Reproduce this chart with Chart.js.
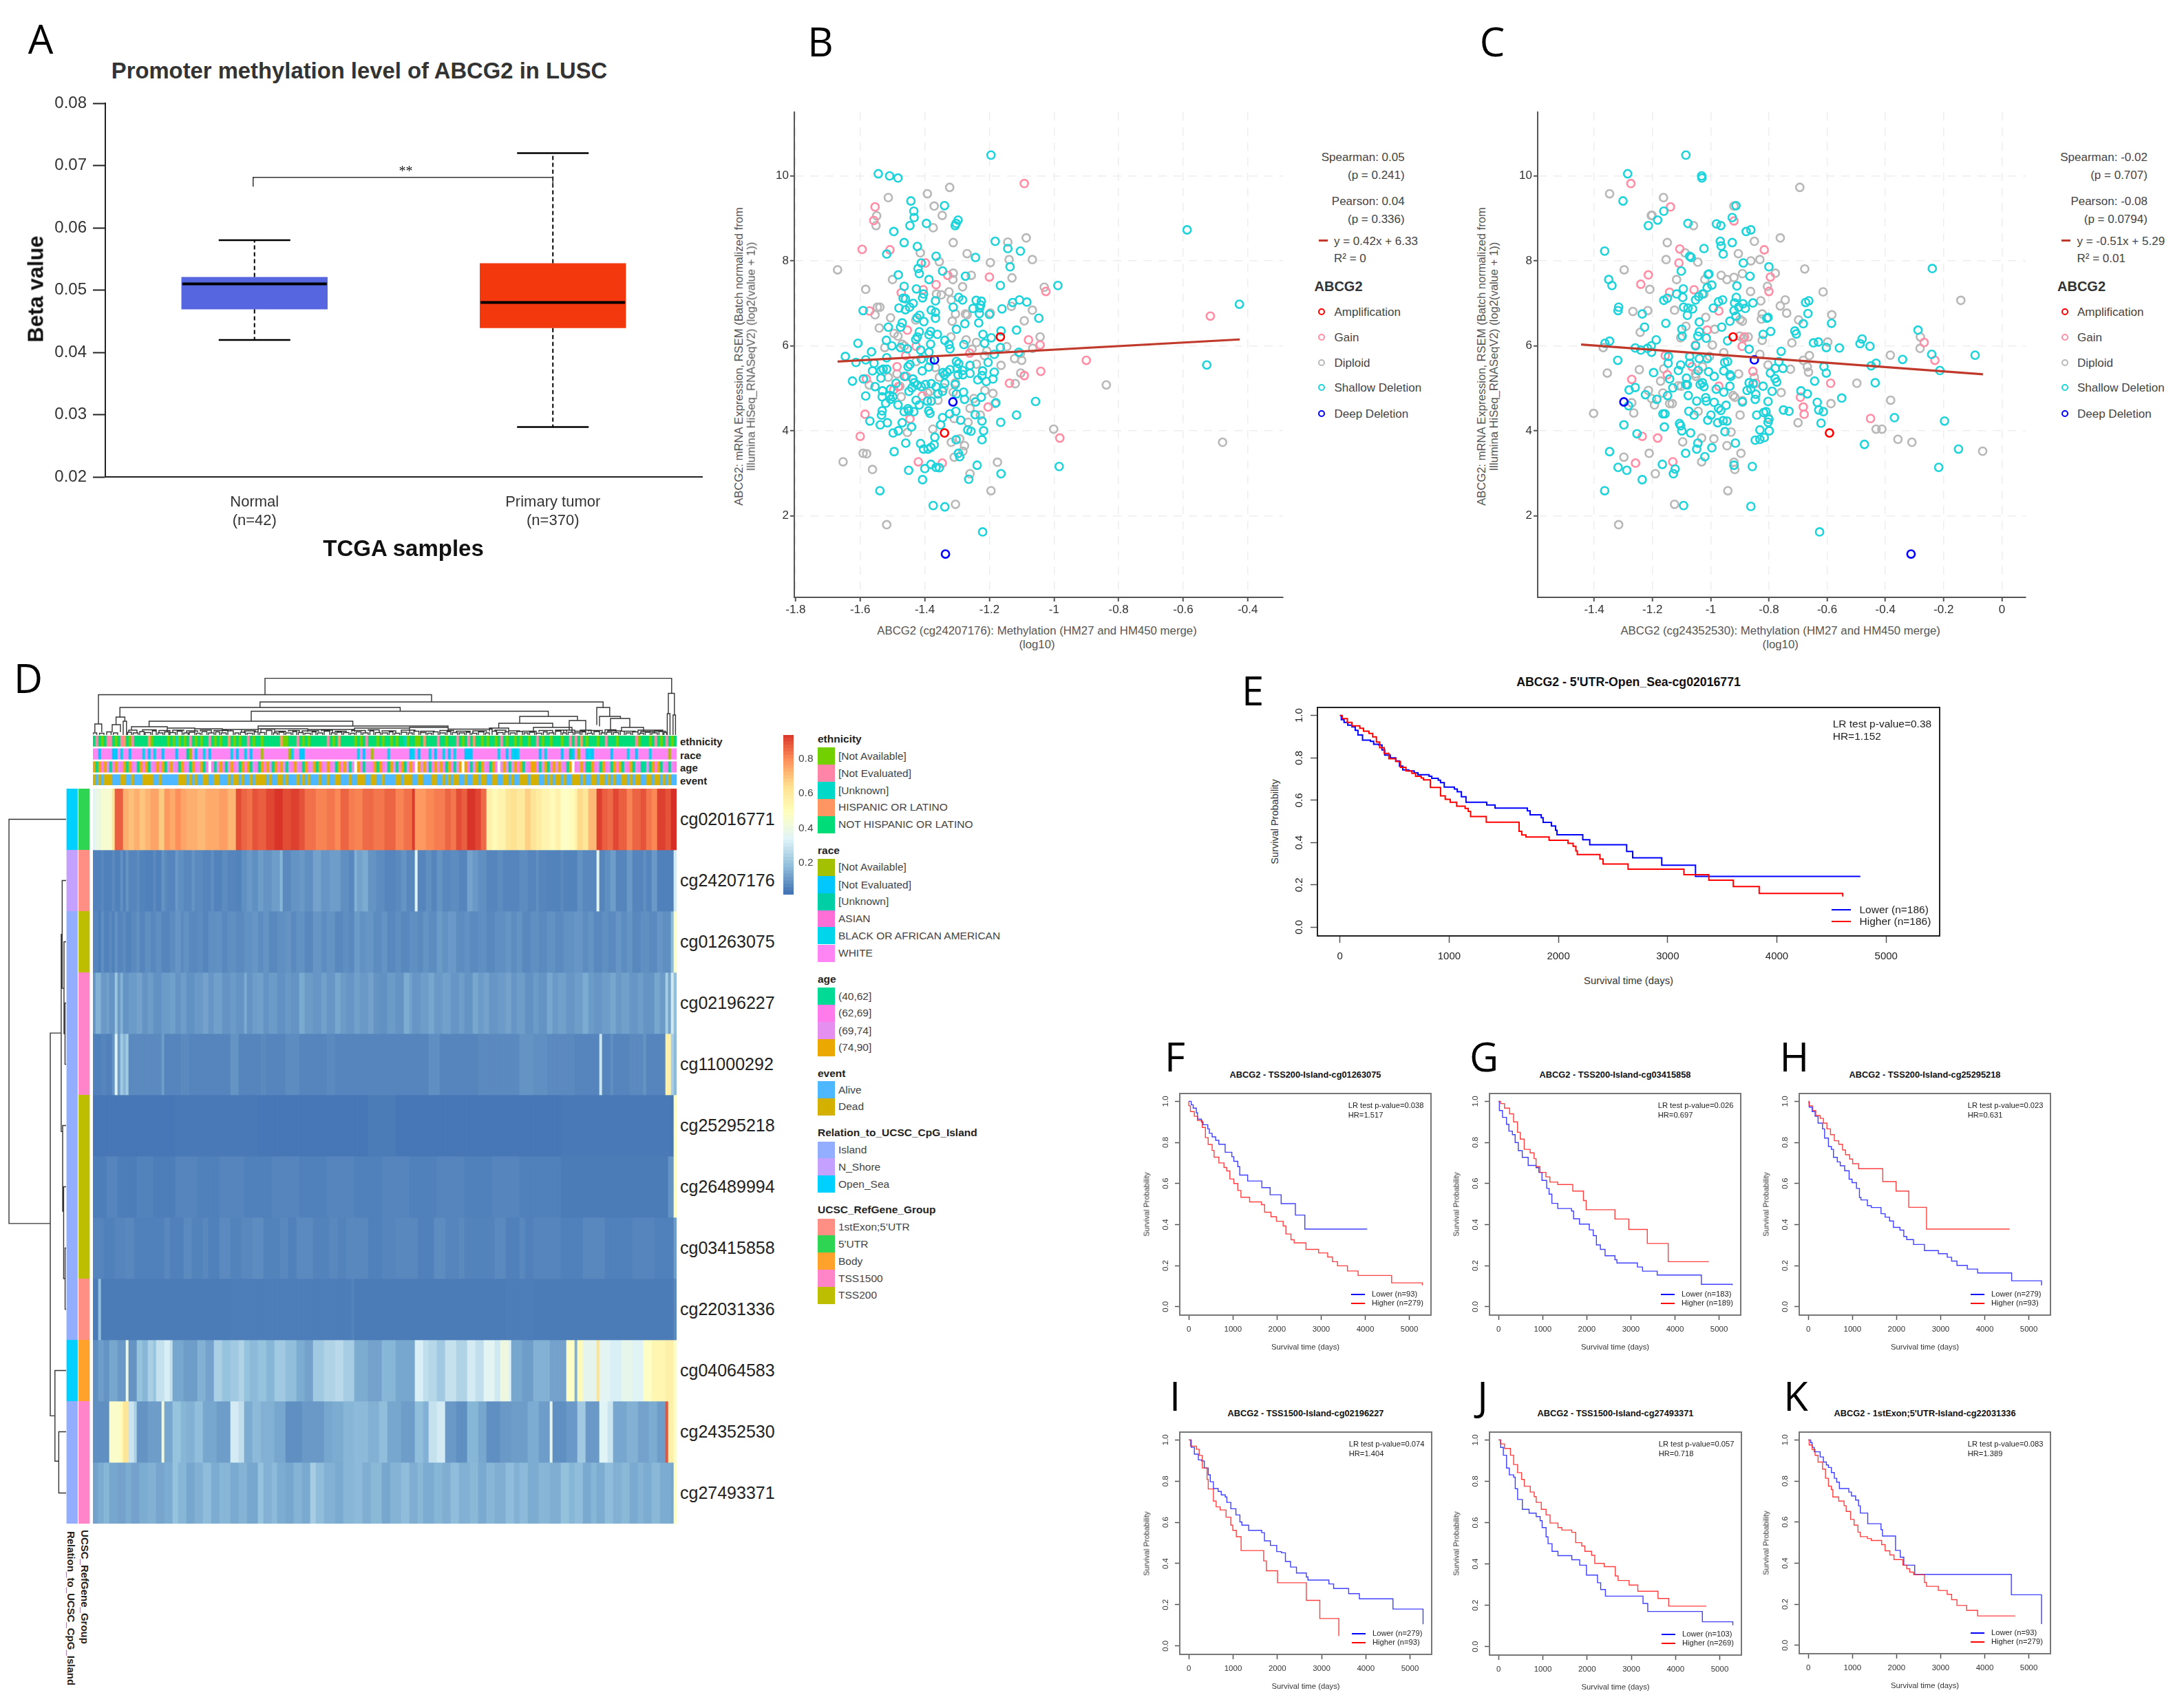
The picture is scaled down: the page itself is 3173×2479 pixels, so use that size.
<!DOCTYPE html>
<html><head><meta charset="utf-8">
<script src="https://cdn.jsdelivr.net/npm/chart.js@4/dist/chart.umd.min.js"></script>
<style>html,body{margin:0;padding:0;background:#fff}#root{position:relative;width:3173px;height:2479px;overflow:hidden;background:#fff;font-family:"Liberation Sans",Arial,sans-serif}
canvas{position:absolute;display:block}.t{position:absolute;white-space:pre;line-height:1}</style>
</head><body><div id="root"></div>
<script>
/* ---------- Panel A ---------- */
const boxLabels=[['Normal','(n=42)'],['Primary tumor','(n=370)']];
const boxQ1=[0.0469,0.0439],boxMedian=[0.051,0.048],boxQ3=[0.0521,0.0543],boxLow=[0.042,0.028],boxHigh=[0.058,0.072];
const boxColors=['#5566E0','#F4380E'];
const bracketTop=0.0681,bracketLeg=0.0666;
const betaTicks=[0.02,0.03,0.04,0.05,0.06,0.07,0.08];

/* ---------- Panel B ---------- */
const bShallow=[[-1.195,10.49],[-1.544,10.05],[-1.509,10],[-1.483,9.95],[-1.443,9.41],[-1.434,9.17],[-1.339,9.3],[-1.433,9.02],[-1.297,8.96],[-1.303,8.88],[-1.306,8.83],[-1.395,8.88],[-1.446,8.83],[-1.496,8.69],[-1.464,8.43],[-1.182,8.46],[-1.423,8.34],[-1.143,8.29],[-1.104,8.23],[-1.518,8.16],[-1.365,8.11],[-1.243,8.08],[-1.136,7.86],[-1.411,7.95],[-1.421,7.82],[-1.417,7.7],[-1.482,7.67],[-1.345,7.76],[-1.274,7.64],[-1.387,7.56],[-1.464,7.4],[-1.426,7.34],[-1.166,7.42],[-0.988,7.42],[-1.404,7.22],[-1.407,7.13],[-1.295,7.14],[-1.467,7.12],[-1.46,7.11],[-1.367,7.06],[-1.283,7.08],[-1.241,7.07],[-1.225,7.05],[-1.107,7.08],[-1.084,7.03],[-1.128,7.02],[-1.436,7],[-1.312,6.91],[-1.227,6.96],[-1.23,6.89],[-1.48,6.89],[-1.251,6.88],[-1.161,6.87],[-1.447,6.91],[-1.591,6.83],[-1.46,6.85],[-1.38,6.84],[-1.367,6.79],[-1.231,6.76],[-1.2,6.74],[-1.416,6.72],[-1.424,6.66],[-1.047,6.65],[-1.367,6.65],[-1.403,6.57],[-1.47,6.54],[-1.276,6.52],[-1.233,6.54],[-1.475,6.44],[-1.513,6.44],[-1.164,6.35],[-1.116,6.37],[-1.417,6.33],[-1.382,6.34],[-1.361,6.27],[-1.387,6.26],[-1.22,6.27],[-1.423,6.21],[-1.194,6.19],[-1.302,6.39],[-1.428,6.15],[-1.338,6.13],[-1.519,6.13],[-1.607,6.06],[-1.502,6],[-1.475,5.96],[-1.325,6.03],[-1.279,6.03],[-1.382,6.04],[-1.215,6.06],[-1.454,5.93],[-1.166,5.96],[-1.413,5.9],[-1.387,5.85],[-1.322,5.93],[-1.646,5.75],[-1.565,5.86],[-1.185,5.8],[-1.109,5.85],[-1.518,5.72],[-1.613,5.61],[-1.583,5.67],[-1.411,5.69],[-1.557,5.59],[-1.382,5.65],[-1.446,5.56],[-1.452,5.51],[-1.302,5.63],[-1.204,5.61],[-1.295,5.58],[-1.26,5.54],[-1.529,5.45],[-1.536,5.42],[-1.562,5.41],[-1.518,5.45],[-1.408,5.41],[-1.388,5.5],[-1.322,5.44],[-1.3,5.47],[-1.283,5.42],[-1.221,5.41],[-1.185,5.38],[-1.344,5.37],[-1.331,5.38],[-1.339,5.32],[-1.59,5.22],[-1.536,5.24],[-1.463,5.28],[-1.437,5.22],[-1.433,5.13],[-1.297,5.32],[-1.282,5.32],[-1.26,5.35],[-1.223,5.3],[-1.189,5.22],[-1.236,5.2],[-1.21,5.16],[-1.624,5.17],[-1.554,5.04],[-1.338,5.12],[-1.306,5.09],[-1.489,5.12],[-1.506,4.98],[-1.531,4.94],[-1.398,5.09],[-1.38,5.11],[-1.365,5.04],[-1.423,5.08],[-1.411,5.04],[-1.44,5.01],[-1.449,4.93],[-1.345,4.93],[-1.359,4.87],[-1.302,4.87],[-1.28,4.91],[-1.583,4.82],[-1.532,4.8],[-1.509,4.83],[-1.499,4.8],[-1.506,4.74],[-1.427,4.72],[-1.38,4.7],[-1.392,4.7],[-1.277,4.74],[-1.225,4.79],[-1.18,4.66],[-1.057,4.69],[-1.521,4.65],[-1.483,4.61],[-1.243,4.68],[-1.417,4.61],[-1.452,4.52],[-1.532,4.47],[-1.464,4.45],[-1.45,4.47],[-1.388,4.47],[-1.384,4.41],[-1.434,4.45],[-1.304,4.46],[-1.323,4.4],[-1.534,4.37],[-1.244,4.38],[-1.116,4.37],[-1.345,4.31],[-1.57,4.23],[-1.289,4.25],[-1.223,4.23],[-1.165,4.2],[-1.538,4.14],[-1.516,4.19],[-1.47,4.19],[-1.441,4.09],[-1.351,4.14],[-1.498,3.95],[-1.482,4],[-1.267,4.02],[-1.257,3.99],[-1.218,4],[-1.369,3.85],[-1.303,3.79],[-1.223,3.79],[-1.459,3.71],[-1.413,3.7],[-1.404,3.57],[-1.39,3.57],[-1.381,3.61],[-1.371,3.67],[-1.495,3.51],[-1.296,3.47],[-1.292,3.39],[-1.381,3.21],[-1.365,3.14],[-1.355,3.13],[-1.4,3.11],[-1.238,3.19],[-0.984,3.16],[-1.45,3.07],[-1.164,2.99],[-1.407,2.85],[-1.264,2.86],[-1.539,2.59],[-1.374,2.24],[-1.338,2.21],[-1.221,1.62],[-0.588,8.73],[-0.426,6.98],[-0.527,5.55]];
const bDiploid=[[-1.323,9.73],[-1.392,9.58],[-1.513,9.49],[-1.371,9.29],[-1.549,9.06],[-1.346,9.07],[-1.551,8.83],[-1.374,8.78],[-1.312,8.43],[-1.143,8.44],[-1.086,8.54],[-1.414,8.19],[-1.269,8.17],[-1.139,8.03],[-1.067,8.03],[-1.355,7.98],[-1.197,7.96],[-1.67,7.79],[-1.312,7.71],[-1.256,7.66],[-1.5,7.56],[-1.313,7.56],[-1.13,7.6],[-1.283,7.39],[-1.583,7.33],[-1.03,7.38],[-1.364,7.22],[-1.349,7.2],[-1.325,7.27],[-1.318,7.08],[-1.547,6.91],[-1.539,6.91],[-1.554,6.73],[-1.506,6.66],[-1.067,6.84],[-1.132,6.93],[-1.305,6.75],[-1.315,6.58],[-1.274,6.75],[-1.269,6.73],[-1.092,6.59],[-1.197,6.77],[-1.428,6.61],[-1.541,6.42],[-1.495,6.29],[-1.483,6.23],[-1.319,6.21],[-1.272,6.14],[-1.24,6.08],[-1.043,6.21],[-1.254,5.92],[-1.146,5.98],[-1.104,5.82],[-1.122,5.7],[-1.1,5.66],[-1.066,5.94],[-1.164,5.54],[-1.103,5.36],[-1.427,5.63],[-1.24,5.57],[-1.524,5.96],[-1.215,5.77],[-1.208,5.88],[-1.367,5.49],[-1.486,5.34],[-1.513,5.26],[-1.572,5.08],[-1.477,5.05],[-1.473,4.8],[-1.359,4.72],[-1.391,4.89],[-1.312,4.91],[-1.26,4.53],[-1.248,4.76],[-1.228,4.37],[-1.189,4.88],[-1.214,4.95],[-1.12,5.11],[-1.182,4.64],[-0.838,5.08],[-1.001,4.04],[-1.266,4.2],[-1.375,4.04],[-1.309,4.29],[-1.454,3.96],[-0.478,3.73],[-1.277,3.65],[-1.292,3.81],[-1.318,3.73],[-1.282,3.52],[-1.309,3.38],[-1.591,3.47],[-1.58,3.46],[-1.653,3.27],[-1.562,3.09],[-1.175,3.26],[-1.26,2.99],[-1.195,2.59],[-1.305,2.27],[-1.518,1.79],[-1.47,6.04],[-1.463,6],[-1.384,4.93],[-1.341,5.01],[-1.355,5.26],[-1.305,5.13]];
const bGain=[[-1.092,9.82],[-1.554,9.27],[-1.558,8.95],[-1.594,8.27],[-1.508,8.26],[-1.398,7.95],[-1.2,7.62],[-1.329,7.66],[-1.405,7.32],[-1.365,7.44],[-1.025,7.28],[-1.473,7.25],[-1.571,6.82],[-1.454,6.37],[-1.079,6.14],[-1.043,6.02],[-1.427,5.99],[-1.459,5.77],[-1.261,5.83],[-1.486,5.51],[-1.041,5.4],[-1.092,5.3],[-1.138,5.12],[-1.457,5.28],[-1.581,5.22],[-1.496,4.97],[-1.482,5.04],[-0.9,5.66],[-0.516,6.7],[-1.204,4.56],[-1.585,4.39],[-1.446,4.28],[-1.6,3.87],[-0.982,3.83],[-1.42,3.27],[-1.346,3.24],[-1.408,4.82]];
const bAmp=[[-1.166,6.21],[-1.339,3.95]];
const bDeep=[[-1.37,5.67],[-1.313,4.68],[-1.336,1.1]];
const bFit=[[-1.67,5.63],[-0.425,6.15]];

/* ---------- Panel C ---------- */
const cShallow=[[-1.085,10.49],[-1.285,10.05],[-1.031,10],[-1.03,9.95],[-1.301,9.41],[-0.913,9.3],[-1.161,9.17],[-0.926,9.02],[-1.182,8.96],[-1.078,8.88],[-0.98,8.87],[-1.214,8.83],[-0.965,8.83],[-0.862,8.73],[-0.878,8.69],[-0.967,8.46],[-0.926,8.43],[-0.964,8.35],[-1.023,8.29],[-1.364,8.23],[-0.957,8.16],[-1.072,8.11],[-1.067,8.08],[-0.888,7.95],[-0.8,7.86],[-1.101,7.76],[-0.239,7.82],[-1.35,7.56],[-1.006,7.69],[-1.009,7.68],[-0.865,7.64],[-1.339,7.42],[-0.996,7.43],[-1.012,7.37],[-0.91,7.41],[-1.094,7.34],[-1.028,7.22],[-1.096,7.14],[-1.041,7.16],[-1.117,7.22],[-1.052,7.08],[-1.161,7.07],[-1.149,7.12],[-0.973,7.04],[-0.959,7.08],[-0.912,7.14],[-0.855,7.01],[-0.918,7.01],[-0.674,7.02],[-0.663,7.06],[-0.889,6.99],[-0.904,6.91],[-1.093,6.91],[-1.316,6.91],[-1.318,6.83],[-1.078,6.89],[-1.062,6.87],[-0.991,6.89],[-0.881,6.88],[-0.92,6.83],[-0.666,6.76],[-1.235,6.75],[-1.08,6.72],[-0.807,6.65],[-0.803,6.67],[-0.934,6.58],[-1.039,6.56],[-1.154,6.53],[-0.913,6.7],[-0.682,6.52],[-0.585,6.53],[-1.227,6.44],[-1.099,6.39],[-0.962,6.44],[-1.098,6.23],[-1.039,6.33],[-1.044,6.23],[-0.794,6.34],[-0.711,6.35],[-0.706,6.28],[-0.82,6.27],[-1.015,6.18],[-1.187,6.14],[-1.347,6.11],[-1.363,6.06],[-0.942,6.12],[-0.647,6.07],[-0.63,6.09],[-0.487,6.05],[-0.48,6.16],[-1.052,6],[-0.288,6.37],[-0.453,5.99],[-0.558,5.95],[-0.603,5.96],[-1.259,5.95],[-1.24,5.9],[-1.203,5.85],[-1.217,5.94],[-1.204,6],[-0.868,5.92],[-0.758,5.87],[-1.145,5.75],[-1.072,5.75],[-1.039,5.7],[-1.012,5.7],[-0.241,5.8],[-0.092,5.78],[-0.341,5.68],[-0.952,5.61],[-1.319,5.66],[-0.942,5.63],[-0.766,5.63],[-0.432,5.59],[-0.449,5.53],[-0.611,5.51],[-0.603,5.36],[-1.146,5.59],[-1.072,5.59],[-1.103,5.55],[-1.111,5.42],[-1.196,5.37],[-0.778,5.47],[-0.752,5.47],[-1.007,5.39],[-0.955,5.41],[-1.043,5.42],[-0.795,5.36],[-0.934,5.32],[-0.931,5.28],[-1.141,5.22],[-1.083,5.24],[-0.213,5.42],[-0.988,5.28],[-0.779,5.23],[-0.643,5.17],[-0.773,5.15],[-0.435,5.13],[-1.085,5.09],[-1.08,5.08],[-1.13,5.01],[-1.036,5.09],[-1.028,5.13],[-1.023,5.04],[-0.934,5.05],[-0.868,5.13],[-0.854,5.11],[-0.82,5.05],[-1.259,5.02],[-1.28,4.96],[-0.981,4.98],[-0.69,4.94],[-0.789,4.93],[-0.875,4.95],[-0.955,4.91],[-0.668,4.87],[-1.224,4.85],[-1.148,4.83],[-1.077,4.83],[-0.845,4.86],[-0.862,4.99],[-0.55,4.77],[-1.185,4.74],[-1.017,4.78],[-1.015,4.7],[-1.048,4.7],[-0.803,4.69],[-0.988,4.67],[-0.847,4.74],[-0.634,4.67],[-0.947,4.6],[-0.891,4.68],[-1.282,4.59],[-0.973,4.53],[-0.629,4.49],[-0.613,4.45],[-0.75,4.49],[-0.731,4.46],[-0.965,4.48],[-1.075,4.46],[-0.818,4.43],[-0.81,4.45],[-1.057,4.37],[-0.999,4.37],[-1.164,4.4],[-1.157,4.4],[-0.842,4.37],[-0.8,4.27],[-1.01,4.25],[-0.957,4.24],[-0.976,4.19],[-0.944,4.23],[-1.298,4.14],[-1.107,4.17],[-0.803,4.2],[-0.369,4.31],[-0.621,4.18],[-1.159,4.09],[-1.103,4.12],[-0.197,4.23],[-0.831,4.02],[-1.099,4],[-1.069,3.95],[-0.799,4],[-0.951,3.98],[-1.253,3.93],[-1.044,3.71],[-0.816,3.84],[-0.847,3.78],[-0.831,3.8],[-0.915,3.71],[-0.472,3.68],[-0.996,3.6],[-1.048,3.57],[-1.086,3.47],[-1.347,3.51],[-0.149,3.57],[-1.02,3.39],[-1.166,3.21],[-0.857,3.16],[-0.92,3.19],[-0.217,3.14],[-1.318,3.14],[-1.288,3.07],[-1.122,3.1],[-1.128,2.99],[-1.235,2.85],[-1.364,2.59],[-1.093,2.24],[-0.862,2.22],[-0.626,1.62]];
const cDiploid=[[-0.694,9.73],[-1.347,9.58],[-1.162,9.49],[-0.92,9.29],[-1.201,9.07],[-1.204,9.07],[-1.059,8.83],[-0.761,8.54],[-0.85,8.46],[-1.149,8.43],[-1.088,8.19],[-0.905,8.17],[-1.153,8.03],[-1.044,7.97],[-0.831,8.03],[-0.862,8],[-1.297,7.79],[-0.677,7.81],[-0.778,7.71],[-0.891,7.7],[-0.964,7.66],[-0.92,7.61],[-0.944,7.56],[-1.117,7.56],[-1.02,7.56],[-1.209,7.33],[-0.805,7.4],[-0.863,7.28],[-0.614,7.27],[-0.141,7.07],[-1.023,7.22],[-0.744,7.08],[-0.828,7.06],[-1.216,6.83],[-1.267,6.81],[-1.124,6.84],[-0.761,6.94],[-0.739,6.77],[-0.584,6.73],[-1.017,6.67],[-0.823,6.75],[-0.826,6.63],[-0.698,6.61],[-0.899,6.62],[-0.891,6.58],[-1.085,6.46],[-0.986,6.39],[-1.242,6.32],[-1.103,6.19],[-0.9,6.23],[-0.871,6.21],[-0.888,6.17],[-0.823,6.13],[-0.721,6.07],[-0.598,6.09],[-0.994,6.02],[-1.369,5.96],[-0.28,6.21],[-0.281,5.94],[-0.383,5.78],[-0.661,5.77],[-0.831,5.8],[-0.803,5.55],[-0.726,5.45],[-0.682,5.66],[-0.668,5.51],[-0.664,5.38],[-1.355,5.36],[-1.245,5.44],[-1.161,5.46],[-1.051,5.28],[-0.904,5.34],[-1.172,5.17],[-1.111,5.06],[-1.214,4.95],[-0.758,4.9],[-0.498,5.12],[-0.923,4.83],[-0.917,4.79],[-1.164,4.89],[-1.203,4.76],[-1.271,4.66],[-1.193,4.61],[-1.141,4.64],[-1.132,4.64],[-0.382,4.72],[-0.587,4.64],[-0.891,4.71],[-1.264,4.42],[-1.402,4.41],[-1.043,4.46],[-0.899,4.37],[-0.7,4.19],[-0.802,4.31],[-0.432,4.04],[-0.412,4.04],[-0.93,3.97],[-1.031,3.83],[-0.989,3.81],[-1.096,3.74],[-0.357,3.8],[-0.309,3.73],[-0.944,3.65],[-1.211,3.47],[-0.896,3.47],[-1.298,3.38],[-0.066,3.52],[-1.031,3.27],[-0.92,3.26],[-0.917,3.09],[-1.19,2.99],[-0.941,2.59],[-1.124,2.27],[-1.316,1.79],[-1.004,5.75],[-1.028,5.51],[-0.955,5.84],[-1.052,5.34],[-1.101,5.05],[-0.85,5.26]];
const cGain=[[-1.274,9.82],[-1.138,9.27],[-0.92,8.94],[-0.816,8.26],[-1.106,8.28],[-1.109,7.95],[-1.214,7.67],[-0.795,7.62],[-1.24,7.45],[-0.8,7.28],[-1.141,7.26],[-1.057,7.32],[-0.972,6.82],[-1.012,6.37],[-0.884,6.21],[-1.052,6.02],[-0.892,5.99],[-0.267,6.08],[-1.156,5.77],[-0.23,5.66],[-1.064,5.51],[-0.855,5.4],[-0.588,5.12],[-1.271,5.21],[-0.845,5.12],[-1.149,5.32],[-0.692,4.79],[-0.682,4.56],[-0.679,4.39],[-0.451,4.29],[-1.235,3.87],[-1.182,3.83],[-1.13,3.27],[-1.258,3.24],[-0.972,5.05]];
const cAmp=[[-0.923,6.21],[-0.592,3.95]];
const cDeep=[[-0.85,5.67],[-1.298,4.68],[-0.312,1.1]];
const cFit=[[-1.445,6.03],[-0.065,5.33]];

/* ---------- Panel D ---------- */
const probeNames=['cg02016771','cg24207176','cg01263075','cg02196227','cg11000292','cg25295218','cg26489994','cg03415858','cg22031336','cg04064583','cg24352530','cg27493371'];
/* each row: [first column, beta value] runs across 212 heatmap columns */
const heat01=[[0,.33],[1,.38],[3,.43],[7,.6],[8,.86],[11,.72],[13,.69],[15,.72],[17,.68],[19,.71],[21,.74],[24,.67],[26,.76],[28,.73],[30,.78],[32,.74],[34,.72],[38,.7],[41,.73],[46,.75],[49,.71],[52,.89],[54,.85],[56,.83],[58,.88],[60,.86],[63,.9],[66,.93],[69,.89],[72,.91],[75,.88],[77,.83],[81,.8],[85,.82],[88,.79],[90,.85],[93,.81],[95,.8],[98,.84],[102,.82],[106,.85],[110,.8],[113,.83],[116,.92],[117,.76],[121,.79],[124,.81],[128,.85],[130,.82],[132,.89],[134,.86],[136,.93],[139,.9],[141,.84],[143,.55],[145,.5],[147,.53],[150,.6],[152,.62],[154,.58],[157,.66],[159,.61],[161,.57],[163,.53],[166,.5],[168,.54],[170,.46],[173,.49],[175,.54],[176,.64],[178,.6],[180,.7],[183,.91],[185,.86],[187,.84],[189,.9],[191,.86],[194,.8],[196,.85],[199,.88],[201,.82],[203,.79],[205,.91],[208,.88],[210,.94]];
const heat02=[[0,.04],[3,.055],[4,.04],[7,.06],[8,.04],[10,.07],[11,.04],[12,.08],[13,.05],[16,.065],[17,.045],[19,.04],[22,.06],[23,.04],[25,.08],[26,.06],[27,.05],[30,.09],[31,.07],[33,.055],[36,.08],[37,.06],[40,.05],[43,.07],[44,.045],[47,.065],[49,.05],[52,.045],[54,.07],[56,.09],[58,.07],[60,.1],[62,.08],[65,.1],[68,.15],[69,.06],[72,.08],[75,.09],[77,.07],[80,.11],[83,.085],[86,.1],[90,.07],[93,.055],[95,.14],[96,.11],[98,.13],[100,.08],[103,.065],[106,.05],[110,.06],[112,.08],[114,.055],[117,.32],[118,.05],[121,.07],[123,.05],[125,.08],[127,.055],[130,.065],[133,.05],[136,.11],[138,.09],[140,.07],[143,.05],[147,.065],[149,.05],[155,.065],[158,.05],[161,.07],[162,.05],[165,.045],[170,.06],[171,.045],[176,.075],[178,.055],[183,.35],[184,.05],[186,.07],[188,.1],[190,.05],[194,.09],[196,.05],[200,.07],[201,.05],[203,.09],[205,.04],[211,.3]];
const heat03=[[0,.05],[2,.035],[3,.07],[4,.045],[6,.06],[7,.04],[8,.075],[9,.05],[11,.065],[12,.045],[14,.06],[16,.075],[17,.05],[19,.07],[21,.055],[23,.07],[25,.05],[28,.065],[30,.085],[32,.06],[33,.075],[35,.055],[38,.065],[40,.05],[42,.07],[45,.075],[47,.055],[49,.07],[52,.06],[55,.075],[58,.085],[60,.065],[62,.08],[64,.055],[67,.07],[70,.08],[72,.06],[74,.075],[77,.055],[80,.085],[83,.065],[85,.08],[88,.055],[91,.07],[93,.06],[95,.095],[97,.075],[99,.085],[102,.065],[105,.08],[107,.055],[110,.07],[112,.055],[115,.07],[118,.06],[120,.08],[122,.065],[125,.095],[127,.075],[129,.09],[132,.065],[135,.075],[137,.06],[140,.07],[143,.055],[146,.07],[150,.085],[152,.065],[154,.08],[156,.055],[159,.07],[162,.06],[165,.075],[168,.06],[171,.075],[175,.085],[178,.065],[180,.08],[182,.055],[185,.07],[187,.06],[190,.085],[192,.065],[194,.08],[196,.055],[199,.07],[202,.06],[205,.085],[207,.07],[210,.16],[211,.45]];
const heat04=[[0,.08],[1,.14],[3,.09],[5,.105],[6,.08],[8,.19],[9,.09],[10,.14],[11,.08],[13,.095],[16,.11],[18,.08],[20,.1],[22,.075],[25,.095],[28,.105],[30,.08],[32,.1],[34,.075],[37,.09],[40,.11],[42,.085],[44,.105],[47,.08],[50,.095],[52,.08],[55,.125],[56,.08],[58,.1],[60,.105],[62,.08],[64,.095],[67,.075],[70,.09],[72,.08],[75,.125],[77,.095],[80,.085],[83,.105],[85,.085],[88,.12],[90,.095],[92,.085],[95,.105],[97,.09],[100,.11],[102,.08],[104,.075],[107,.095],[110,.08],[113,.13],[115,.105],[116,.085],[119,.1],[122,.12],[124,.09],[127,.105],[130,.085],[133,.1],[135,.08],[138,.12],[140,.095],[142,.11],[144,.085],[147,.095],[150,.11],[152,.085],[154,.1],[157,.075],[160,.095],[162,.08],[165,.12],[167,.09],[169,.105],[172,.085],[175,.1],[178,.13],[180,.095],[182,.085],[185,.1],[188,.12],[190,.09],[192,.105],[195,.085],[198,.1],[200,.08],[204,.12],[206,.095],[208,.21],[209,.11],[210,.29],[211,.17]];
const heat05=[[0,.04],[3,.05],[5,.04],[7,.08],[8,.32],[9,.1],[10,.2],[11,.15],[12,.2],[13,.06],[25,.1],[26,.05],[32,.06],[35,.05],[50,.08],[53,.05],[61,.06],[63,.05],[70,.065],[75,.05],[85,.06],[88,.05],[100,.05],[122,.07],[126,.05],[140,.06],[155,.08],[160,.07],[165,.06],[175,.05],[184,.28],[185,.05],[188,.07],[189,.05],[195,.06],[200,.08],[201,.05],[208,.55],[210,.22],[211,.16]];
const heat06=[[0,.02],[30,.025],[60,.02],[100,.03],[110,.02],[170,.025],[210,.02],[211,.48]];
const heat07=[[0,.035],[5,.05],[9,.035],[16,.045],[22,.035],[30,.05],[38,.04],[46,.05],[55,.04],[65,.05],[75,.04],[85,.05],[95,.04],[105,.05],[115,.04],[125,.05],[135,.04],[145,.05],[155,.04],[170,.03],[209,.08],[211,.48]];
const heat08=[[0,.05],[4,.04],[8,.05],[12,.055],[15,.04],[20,.04],[26,.055],[28,.04],[33,.06],[36,.045],[40,.055],[42,.04],[46,.06],[50,.045],[54,.055],[58,.065],[62,.045],[68,.055],[71,.04],[74,.06],[80,.045],[86,.055],[89,.045],[92,.055],[100,.04],[105,.05],[110,.055],[118,.04],[124,.065],[128,.05],[133,.06],[135,.045],[138,.045],[146,.06],[150,.04],[155,.055],[157,.04],[160,.05],[170,.04],[178,.055],[186,.04],[196,.05],[204,.04],[211,.1]];
const heat09=[[0,.03],[2,.17],[3,.03],[50,.035],[94,.045],[95,.03],[150,.035],[160,.03],[211,.06]];
const heat10=[[0,.07],[2,.1],[4,.08],[6,.12],[9,.09],[12,.38],[13,.08],[16,.18],[18,.15],[20,.22],[22,.18],[23,.27],[26,.31],[28,.26],[29,.12],[33,.1],[38,.14],[41,.11],[44,.22],[47,.18],[50,.2],[53,.23],[55,.18],[57,.16],[60,.18],[63,.15],[66,.2],[70,.17],[74,.13],[77,.11],[80,.2],[84,.23],[88,.25],[91,.21],[95,.13],[100,.11],[105,.15],[110,.12],[117,.31],[120,.26],[122,.24],[125,.2],[128,.27],[132,.23],[136,.3],[139,.26],[142,.34],[146,.29],[148,.39],[151,.32],[152,.12],[156,.1],[160,.14],[166,.11],[172,.46],[175,.14],[176,.5],[178,.35],[183,.62],[184,.34],[188,.31],[192,.36],[196,.33],[200,.46],[203,.52],[208,.55],[211,.45]];
const heat11=[[0,.07],[6,.45],[10,.5],[11,.6],[13,.28],[15,.22],[16,.08],[20,.1],[25,.4],[26,.12],[29,.18],[32,.15],[34,.14],[37,.17],[40,.12],[45,.1],[50,.3],[53,.26],[55,.13],[58,.16],[61,.14],[66,.12],[70,.07],[76,.09],[81,.09],[84,.12],[87,.13],[91,.15],[95,.16],[100,.14],[104,.17],[107,.12],[112,.1],[117,.17],[120,.14],[122,.27],[125,.3],[128,.09],[132,.07],[136,.15],[140,.12],[143,.07],[148,.09],[152,.1],[158,.13],[162,.1],[166,.35],[167,.07],[172,.09],[176,.2],[179,.09],[184,.33],[187,.28],[189,.12],[194,.14],[198,.11],[202,.13],[205,.1],[208,.88],[209,.55],[211,.45]];
const heat12=[[0,.11],[2,.13],[4,.15],[6,.12],[9,.11],[12,.13],[14,.11],[17,.13],[20,.14],[23,.115],[26,.13],[29,.18],[31,.15],[34,.12],[37,.14],[40,.165],[43,.13],[46,.15],[50,.125],[53,.145],[56,.12],[60,.18],[62,.14],[65,.16],[67,.13],[70,.12],[73,.145],[76,.125],[79,.21],[81,.165],[84,.14],[88,.125],[91,.15],[95,.16],[98,.135],[101,.155],[105,.12],[108,.145],[112,.165],[115,.135],[118,.155],[120,.13],[124,.15],[127,.135],[130,.165],[133,.14],[137,.155],[140,.125],[143,.15],[146,.135],[150,.165],[153,.14],[155,.16],[158,.13],[162,.15],[166,.135],[170,.175],[173,.15],[175,.165],[178,.125],[181,.15],[183,.13],[186,.165],[189,.14],[192,.155],[195,.125],[198,.145],[200,.13],[203,.155],[206,.13],[210,.12],[211,.47]];
const heatRows=[heat01,heat02,heat03,heat04,heat05,heat06,heat07,heat08,heat09,heat10,heat11,heat12];
const relationOfProbe=[2,1,0,0,0,0,0,0,0,2,0,0];
const groupOfProbe=[1,0,4,3,3,4,4,4,0,2,3,3];
const trackNames=['ethnicity','race','age','event'];
/* ethnicity and race: a base category with the listed [column, category] stripes */
const ethnicityStripes=[[1,1],[3,0],[5,1],[6,1],[8,0],[10,1],[11,3],[13,0],[14,1],[20,3],[21,0],[27,0],[29,0],[30,2],[31,0],[33,0],[35,1],[37,0],[39,0],[42,1],[44,0],[46,0],[49,3],[51,0],[53,0],[56,1],[58,0],[61,0],[68,3],[69,0],[70,0],[74,1],[76,0],[78,0],[85,1],[87,0],[89,3],[95,0],[97,0],[99,1],[103,0],[105,0],[108,0],[110,0],[113,2],[114,0],[117,0],[118,0],[120,3],[125,1],[128,0],[132,1],[134,0],[136,1],[138,3],[141,0],[143,0],[146,0],[148,1],[150,0],[153,0],[155,0],[158,0],[161,1],[163,0],[166,0],[170,0],[173,1],[175,1],[177,3],[179,0],[183,0],[186,1],[190,0],[197,1],[198,0],[202,0],[204,1],[206,0],[208,1],[210,0]];
const raceStripes=[[2,1],[7,1],[8,1],[10,4],[13,1],[18,4],[20,1],[22,4],[25,1],[30,1],[34,2],[35,0],[37,1],[40,4],[42,1],[50,4],[52,1],[55,4],[57,1],[61,0],[71,0],[72,4],[75,1],[76,1],[96,4],[98,1],[101,0],[107,4],[115,1],[116,4],[118,1],[122,4],[124,1],[127,4],[129,1],[131,4],[135,1],[136,1],[137,1],[147,4],[150,1],[152,4],[153,1],[154,4],[162,1],[164,4],[170,1],[173,2],[174,1],[176,0],[179,1],[180,4],[181,1],[188,1],[194,4],[197,1],[202,4],[209,0]];
/* age and event: one digit per heatmap column, ten to a group ('-' = missing) */
const ageTrack=['3031320132','1303120313','0213130232','1031203123','01-1023102','3120313021','0313203132','0213210312','3031231203','13202-3102','2130312032','0130231-32','3201323103','1023-31023','0321031-23','2023130213','3102301323','2103-12310','0312031203','1302130210','0203130210','2130'];
const eventTrack=['1010111000','1100100011','1100100000','0111010100','1100110001','0110100101','1110100110','1000101010','0010010011','0001001110','0110010000','1101110011','0001100101','0110010011','0110011001','1010011101','1100101011','0100111010','0110110101','0011010110','0110110101','0010'];
const ethnicityPalette=['#73D000','#FF85A8','#00D8C8','#FF9560','#00DC78'];
const racePalette=['#A3C100','#00C8FF','#00CFA5','#FF6FD6','#00D5EC','#FF85F5'];
const agePalette=['#00DA95','#FF7BEC','#E590F0','#EAA800'];
const eventPalette=['#4DB8FF','#D4B000'];
const relationPalette=['#93AEFF','#C4A0FF','#00D0FF'];
const groupPalette=['#FF8E85','#2ED552','#FFA22C','#FF85C8','#BDBE00'];
/* dendrograms: [from, to, height, height of first child, height of second child] */
const topDendroMain=[[62.5,210.2,165,117,121],[2,123,117,32,96],[60.7,185.3,96,80,80],[9.8,111.6,80,52,69],[57.5,165.4,69,40,54],[20.4,94.4,40,24,26],[155,176,54,34,42],[147.4,167,34,20,22],[173,179,42,14,14],[183,187.7,80,29,54],[184,191.6,54,25,48],[188,195,48,15,22],[209,211.2,121,62,58],[208.6,209.6,62,0,0],[210.7,211.6,58,0,0],[0.7,3.2,32,8,8],[8.4,11.6,52,30,40],[7,10,30,8,8],[11,12.2,40,0,0],[14,27,24,14,16],[60,129,26,18,20],[27,37,20,8,10],[37,47,18,8,9],[47,60,16,9,10],[60,78,18,10,12],[78,95,16,9,9],[95,115,20,10,10],[115,129,22,8,12],[129,145,17,8,9],[144,151,20,10,8],[160,174,22,9,9],[171,175,14,6,6],[177,181,14,6,6],[186,190,15,7,7],[192,200,22,10,10],[198,207,14,7,7]];
const topDendroMid=[[13,16,14,8,6],[18,23,15,10,12],[24,28,13,6,9],[29,33,14,7,11],[34,38,12,6,8],[39,43,14,10,6],[44,49,13,9,6],[50,54,16,12,8],[55,59,12,5,9],[61,66,17,7,13],[66,70,11,6,8],[71,75,13,10,7],[76,82,12,5,9],[83,87,14,11,6],[88,92,11,8,7],[94,99,13,9,6],[100,104,15,12,7],[105,110,12,9,5],[112,117,14,8,11],[119,124,11,7,9],[126,131,13,6,10],[132,137,11,6,8],[138,143,12,5,9],[146,150,14,11,7],[151,155,12,6,10],[156,161,11,8,5],[162,167,13,9,6],[168,172,14,11,8],[175,179,11,6,9],[180,185,13,10,6],[187,192,12,7,11],[193,197,11,6,9],[199,204,10,5,8],[204,208,11,6,7]];
const topDendroLeaves=[[0,1.4,6],[2.4,4,5],[5,6.6,9],[7.4,9,6],[12.6,14,8],[14.6,16.4,6],[17,18.6,10],[19,21,7],[21.6,23,12],[23.6,25.4,6],[26,27.6,9],[28,30,7],[30.6,32.4,11],[33,34.6,6],[35,37,8],[37.6,39,5],[39.6,41.4,10],[42,44,6],[44.6,46,9],[46.6,48.4,6],[49,51,12],[51.6,53,6],[53.6,55.4,8],[56,58,5],[58.6,60,9],[60.6,62.4,7],[63,65,13],[65.6,67,6],[67.6,69.4,8],[70,72,6],[72.6,74,10],[74.6,76.4,7],[77,79,5],[79.6,81,9],[81.6,83.4,6],[84,86,11],[86.6,88,6],[88.6,90.4,8],[91,93,7],[93.6,95,5],[95.6,97.4,9],[98,100,6],[100.6,102,12],[102.6,104.4,7],[105,107,6],[107.6,109,9],[109.6,111.4,5],[112,114,8],[114.6,116,6],[116.6,118.4,11],[119,121,7],[121.6,123,5],[123.6,125.4,9],[126,128,6],[128.6,130,10],[130.6,132.4,7],[133,135,6],[135.6,137,8],[137.6,139.4,5],[140,142,9],[142.6,144,6],[145,146.6,11],[147,149,7],[149.6,151,9],[151.6,153.4,6],[154,156,10],[156.6,158,6],[158.6,160.4,8],[161,163,5],[163.6,165,9],[165.6,167.4,6],[168,170,11],[170.6,172,6],[172.6,174.4,8],[175,177,6],[177.6,179,9],[179.6,181.4,5],[182,184,10],[184.6,186,6],[186.6,188.4,8],[189,191,7],[191.6,193,11],[193.6,195.4,6],[196,198,9],[198.6,200,5],[200.6,202.4,8],[203,205,6],[205.6,207,10],[207.4,208.4,7]];
/* side dendrogram: [first row, second row, distance, distance of first child, distance of second child] */
const sideDendro=[[0.5,7.1,82,0,22.7],[3.99,10.24,22.7,7,16],[9.5,10.98,16,0,10.5],[10.5,11.5,10.5,0,0],[2.38,5.6,7,5.6,4.9],[1.5,3.26,5.6,0,3],[2.5,4,3,0,1.5],[3.5,4.5,1.5,0,0],[5.5,6.9,4.9,0,3.5],[6.5,8,3.5,0,1.4],[7.5,8.5,1.4,0,0]];
const legendBlocks=[
 ['ethnicity',1074,[['[Not Available]',1098.5],['[Not Evaluated]',1123.8],['[Unknown]',1148.5],['HISPANIC OR LATINO',1173],['NOT HISPANIC OR LATINO',1198]],ethnicityPalette],
 ['race',1236,[['[Not Available]',1260.4],['[Not Evaluated]',1285.7],['[Unknown]',1310.4],['ASIAN',1335],['BLACK OR AFRICAN AMERICAN',1359.8],['WHITE',1385]],racePalette],
 ['age',1423,[['(40,62]',1447.6],['(62,69]',1472],['(69,74]',1497.5],['(74,90]',1522]],agePalette],
 ['event',1559.5,[['Alive',1583.6],['Dead',1608.3]],eventPalette],
 ['Relation_to_UCSC_CpG_Island',1646,[['Island',1671],['N_Shore',1695.6],['Open_Sea',1720.8]],relationPalette],
 ['UCSC_RefGene_Group',1758,[["1stExon;5'UTR",1783],["5'UTR",1807.5],['Body',1832.8],['TSS1500',1857.5],['TSS200',1882]],groupPalette]];

/* ---------- Survival panels: [days, survival probability] ---------- */
const survivalDayTicks=[0,1000,2000,3000,4000,5000];
const survivalProbTicks=[0,0.2,0.4,0.6,0.8,1];
const eLower=[[0,1],[13,.98],[38,.967],[72,.954],[110,.946],[140,.93],[165,.908],[207,.884],[279,.878],[309,.864],[355,.861],[385,.837],[410,.813],[461,.8],[511,.785],[545,.761],[575,.743],[630,.738],[680,.729],[714,.72],[816,.713],[841,.703],[900,.694],[921,.683],[955,.662],[1048,.653],[1074,.64],[1112,.616],[1154,.59],[1344,.577],[1420,.563],[1716,.55],[1741,.531],[1843,.517],[1860,.495],[1936,.478],[1974,.458],[1987,.437],[2223,.413],[2287,.39],[2625,.358],[2680,.328],[2946,.293],[3255,.24],[4764,.24]];
const eHigher=[[0,1],[21,.985],[68,.967],[110,.951],[182,.94],[216,.926],[266,.915],[300,.899],[334,.875],[364,.848],[406,.821],[448,.796],[511,.783],[554,.755],[604,.738],[659,.727],[693,.713],[744,.705],[765,.696],[828,.66],[921,.62],[964,.604],[1010,.59],[1069,.572],[1146,.561],[1175,.547],[1196,.523],[1340,.496],[1640,.453],[1665,.436],[1703,.426],[1915,.411],[2088,.396],[2135,.382],[2160,.36],[2173,.343],[2380,.322],[2409,.299],[2638,.274],[3149,.248],[3377,.222],[3601,.192],[3838,.16],[4603,.145]];
const fLower=[[0,1],[54,.983],[98,.967],[170,.944],[197,.913],[286,.9],[322,.886],[429,.866],[465,.844],[528,.827],[608,.81],[680,.791],[823,.752],[975,.73],[1019,.708],[1109,.682],[1154,.641],[1333,.612],[1655,.58],[1843,.545],[2093,.502],[2415,.446],[2630,.378],[4043,.378]];
const fHigher=[[0,1],[1,.978],[36,.95],[125,.927],[197,.906],[304,.873],[376,.823],[438,.79],[528,.761],[572,.728],[680,.7],[796,.678],[859,.661],[930,.622],[1019,.6],[1109,.566],[1181,.533],[1378,.51],[1646,.497],[1718,.46],[1861,.438],[1986,.416],[2138,.393],[2200,.354],[2316,.326],[2388,.311],[2656,.279],[2942,.262],[3148,.242],[3256,.219],[3372,.199],[3596,.174],[3837,.152],[4597,.116],[5295,.104]];
const gLower=[[0,1],[18,.955],[89,.922],[179,.888],[233,.855],[313,.838],[376,.799],[447,.76],[537,.727],[671,.688],[850,.677],[912,.654],[984,.615],[1091,.576],[1145,.548],[1208,.503],[1342,.478],[1655,.466],[1700,.428],[1834,.402],[2057,.374],[2147,.346],[2218,.301],[2308,.279],[2415,.248],[2638,.229],[2683,.213],[3148,.193],[3264,.173],[3596,.154],[4598,.109],[5296,.105]];
const gHigher=[[0,1],[45,.989],[134,.967],[250,.939],[340,.9],[429,.849],[492,.816],[581,.766],[716,.749],[805,.721],[850,.682],[939,.654],[1073,.632],[1163,.607],[1342,.595],[1682,.563],[1923,.517],[1986,.472],[2638,.427],[2952,.376],[3372,.308],[3846,.219],[4768,.219]];
const hLower=[[0,.994],[20,.972],[87,.95],[154,.927],[221,.894],[322,.866],[369,.821],[456,.78],[523,.766],[570,.727],[657,.705],[724,.686],[824,.662],[925,.621],[992,.604],[1092,.576],[1159,.532],[1193,.52],[1340,.492],[1427,.483],[1648,.453],[1742,.436],[1843,.417],[1930,.386],[2077,.373],[2164,.342],[2231,.327],[2385,.303],[2633,.273],[2948,.258],[3149,.241],[3249,.222],[3370,.201],[3604,.183],[3839,.164],[4610,.126],[5287,.104]];
const hHigher=[[0,1],[20,.978],[100,.955],[168,.931],[268,.917],[342,.894],[422,.866],[503,.838],[590,.808],[690,.791],[777,.763],[844,.74],[938,.719],[1005,.696],[1139,.672],[1688,.609],[1990,.563],[2278,.484],[2680,.378],[4563,.378]];
const iLower=[[0,1],[54,.964],[125,.931],[215,.903],[286,.898],[349,.864],[438,.831],[483,.797],[555,.764],[662,.75],[733,.733],[823,.723],[859,.697],[948,.666],[1064,.636],[1154,.602],[1199,.586],[1351,.561],[1646,.55],[1709,.51],[1843,.488],[1986,.458],[2093,.452],[2183,.41],[2299,.383],[2433,.354],[2656,.335],[2692,.32],[3166,.301],[3273,.279],[3613,.254],[3855,.229],[4615,.179],[5295,.105]];
const iHigher=[[0,1],[36,.97],[170,.955],[233,.925],[304,.864],[411,.808],[438,.762],[555,.703],[617,.675],[707,.66],[841,.625],[948,.586],[993,.561],[1073,.53],[1181,.463],[1691,.413],[1753,.365],[2004,.307],[2656,.221],[2961,.133],[3390,.048]];
const jLower=[[0,1],[45,.964],[107,.926],[179,.864],[242,.831],[340,.82],[376,.764],[429,.712],[537,.664],[689,.646],[850,.629],[939,.609],[984,.576],[1073,.531],[1118,.498],[1208,.461],[1342,.44],[1655,.42],[1834,.394],[1986,.346],[2236,.309],[2308,.276],[2415,.244],[3265,.209],[3372,.17],[4607,.12],[5296,.103]];
const jHigher=[[0,1],[45,.981],[134,.959],[268,.926],[340,.881],[429,.842],[519,.809],[581,.776],[716,.748],[805,.726],[850,.698],[966,.664],[1073,.637],[1163,.598],[1342,.576],[1431,.564],[1655,.553],[1744,.503],[1879,.487],[1950,.461],[2102,.442],[2174,.403],[2388,.387],[2638,.342],[2701,.32],[2952,.298],[3148,.268],[3604,.233],[3846,.196],[4696,.196]];
const kLower=[[0,1],[54,.987],[87,.964],[134,.942],[268,.917],[342,.892],[409,.878],[456,.866],[523,.841],[590,.813],[643,.794],[704,.763],[918,.746],[978,.727],[1072,.707],[1139,.679],[1179,.644],[1347,.592],[1648,.563],[1682,.532],[1977,.462],[2084,.429],[2164,.39],[2412,.345],[4603,.246],[5287,.103]];
const kHigher=[[0,1],[20,.975],[87,.953],[154,.925],[221,.892],[322,.858],[389,.813],[456,.775],[523,.758],[556,.722],[690,.702],[811,.68],[858,.652],[958,.613],[1038,.585],[1126,.551],[1179,.529],[1340,.52],[1427,.51],[1662,.49],[1742,.46],[1849,.44],[1943,.417],[2144,.39],[2231,.373],[2298,.356],[2385,.344],[2633,.306],[2680,.287],[2948,.267],[3149,.248],[3249,.222],[3370,.194],[3591,.17],[3839,.143],[4690,.143]];

/* ---------- helpers ---------- */
const root=document.getElementById('root');
const FONT='"Liberation Sans",Arial,sans-serif';
Chart.defaults.font.family=FONT;
function T(text,x,y,o={}){
  const d=document.createElement('div');d.className='t';d.textContent=text;
  const a=o.anchor||'left';const tx=a==='left'?'0':a==='right'?'-100%':'-50%';
  d.style.cssText=`left:${x}px;top:${y}px;font-size:${o.size||16}px;font-weight:${o.weight||400};color:${o.color||'#222'};font-family:${o.family||FONT};transform:translate(${tx},-50%)${o.rotate?` rotate(${o.rotate}deg)`:''}`;
  root.appendChild(d);return d;
}
function R(x,y,w,h,c){const d=document.createElement('div');d.style.cssText=`position:absolute;left:${x}px;top:${y}px;width:${w}px;height:${h}px;background:${c}`;root.appendChild(d);}
function place(l,t,w,h){const c=document.createElement('canvas');c.width=w;c.height=h;c.style.cssText=`left:${l}px;top:${t}px;width:${w}px;height:${h}px`;root.appendChild(c);return c;}
function base(extra){return Object.assign({responsive:false,animation:false,devicePixelRatio:1,events:[],plugins:{legend:{display:false},tooltip:{enabled:false}},layout:{padding:0,autoPadding:false}},extra);}
const xy=a=>a.map(p=>({x:p[0],y:p[1]}));
const stops=[[.016,[69,117,180]],[.1695,[145,191,219]],[.323,[224,243,248]],[.477,[255,255,191]],[.63,[254,224,144]],[.784,[252,141,89]],[.937,[215,48,39]]];
function heatColor(v){
  if(v<=stops[0][0])return `rgb(${stops[0][1]})`;
  for(let i=1;i<stops.length;i++){if(v<=stops[i][0]){const f=(v-stops[i-1][0])/(stops[i][0]-stops[i-1][0]);const c=stops[i-1][1].map((a,j)=>Math.round(a+(stops[i][1][j]-a)*f));return `rgb(${c})`;}}
  return `rgb(${stops[6][1]})`;
}
const COLS=212;
function expand(runs){const out=[];for(let i=0;i<runs.length;i++){const end=i+1<runs.length?runs[i+1][0]:COLS;for(let c=runs[i][0];c<end;c++)out.push(runs[i][1]);}return out;}
function brackets(list){const p=[];for(const [a,b,h,h1,h2] of list){p.push({x:a,y:h1},{x:a,y:h},{x:b,y:h},{x:b,y:h2},{x:NaN,y:NaN});}return p;}
const swap=p=>p.map(q=>({x:q.y,y:q.x}));
const noPad=s=>{s.paddingTop=0;s.paddingBottom=0;s.paddingLeft=0;s.paddingRight=0};
const fixW=w=>s=>{s.width=w;noPad(s)};const fixH=h=>s=>{s.height=h;noPad(s)};

/* ---------- panel letters ---------- */
[['A',59,56],['B',1192,60],['C',2168,60],['D',41,985],['E',1820,1003],['F',1707,1535],['G',2156,1535],['H',2607,1535],['I',1707,2028],['J',2154,2028],['K',2609,2028]].forEach(l=>T(l[0],l[1],l[2],{size:58,anchor:'center',color:'#000',family:'"Open Sans",sans-serif'}));

/* ---------- Panel A ---------- */
const boxPlugin={id:'boxParts',afterDatasetsDraw(ch){
  const {ctx,scales:{x,y}}=ch;ctx.save();
  boxLabels.forEach((_,i)=>{const cx=x.getPixelForValue(i);
    ctx.strokeStyle='#000';ctx.lineWidth=2;ctx.setLineDash([6,4]);
    ctx.beginPath();ctx.moveTo(cx,y.getPixelForValue(boxQ3[i]));ctx.lineTo(cx,y.getPixelForValue(boxHigh[i]));
    ctx.moveTo(cx,y.getPixelForValue(boxQ1[i]));ctx.lineTo(cx,y.getPixelForValue(boxLow[i]));ctx.stroke();
    ctx.setLineDash([]);ctx.lineWidth=2.5;ctx.beginPath();
    [boxHigh[i],boxLow[i]].forEach(v=>{const p=y.getPixelForValue(v);ctx.moveTo(cx-52,p);ctx.lineTo(cx+52,p);});ctx.stroke();
    ctx.lineWidth=4;ctx.beginPath();const m=y.getPixelForValue(boxMedian[i]);ctx.moveTo(cx-105,m);ctx.lineTo(cx+105,m);ctx.stroke();
  });
  const a=x.getPixelForValue(0)-2,b=x.getPixelForValue(1),t=y.getPixelForValue(bracketTop),l=y.getPixelForValue(bracketLeg);
  ctx.strokeStyle='#333';ctx.lineWidth=1.5;ctx.beginPath();ctx.moveTo(a,l);ctx.lineTo(a,t);ctx.lineTo(b,t);ctx.lineTo(b,l);ctx.stroke();
  ctx.restore();
}};
new Chart(place(60,140,970,640),{type:'bar',plugins:[boxPlugin],data:{labels:boxLabels,datasets:[{data:boxQ1.map((q,i)=>[q,boxQ3[i]]),backgroundColor:boxColors,barPercentage:.49,categoryPercentage:1,borderWidth:0}]},
 options:base({layout:{autoPadding:false,padding:{top:10,right:10}},scales:{
  x:{afterFit:fixH(87),grid:{display:false,drawTicks:false},border:{color:'#222',width:2},ticks:{color:'#333',padding:24,font:{size:22},maxRotation:0}},
  y:{min:0.02,max:0.08,afterFit:fixW(93),afterBuildTicks:s=>{s.ticks=betaTicks.map(v=>({value:v}))},grid:{drawOnChartArea:false,tickLength:18,tickWidth:2,tickColor:'#222'},border:{color:'#222',width:2},ticks:{color:'#333',padding:9,font:{size:24},callback:v=>v.toFixed(2)}}}})});
T('Promoter methylation level of ABCG2 in LUSC',522,102.7,{size:32.8,weight:700,color:'#333',anchor:'center'});
T('Beta value',52,420,{size:31,weight:700,color:'#111',anchor:'center',rotate:-90});
T('TCGA samples',586,796,{size:33,weight:700,color:'#111',anchor:'center'});
T('**',589.6,248,{size:20,anchor:'center',color:'#222',family:'"Liberation Serif",serif'});

/* ---------- Panels B, C ---------- */
function scatterPanel(cfg){
  const ds=(d,c)=>({type:'scatter',data:xy(d),pointStyle:'circle',pointRadius:5.6,pointBorderWidth:2.6,pointBorderColor:c,pointBackgroundColor:'rgba(0,0,0,0)',showLine:false});
  new Chart(place(cfg.cl,155,cfg.pr+6-cfg.cl,750),{type:'scatter',data:{datasets:[
    {data:xy(cfg.fit),showLine:true,borderColor:'#C0392B',borderWidth:3.2,pointRadius:0},
    ds(cfg.deep,'#0000FF'),ds(cfg.amp,'#FF0000'),ds(cfg.shallow,'#1FD3DB'),ds(cfg.gain,'#FF8DA5'),ds(cfg.diploid,'#B8B8B8')]},
   options:base({layout:{autoPadding:false,padding:{top:8,right:6}},scales:{
    x:{type:'linear',min:cfg.xmin,max:cfg.xmax,afterFit:fixH(37),grid:{color:'#eeeeee',lineWidth:1.5,tickColor:'#555',tickLength:6,tickWidth:2},border:{color:'#555',width:2,dash:[12,10]},ticks:{stepSize:.2,includeBounds:false,color:'#333',padding:2,font:{size:17},maxRotation:0,autoSkip:false,callback:v=>String(+v.toFixed(1))}},
    y:{type:'linear',min:0.08,max:11.5,afterFit:fixW(cfg.pl-cfg.cl),grid:{color:'#eeeeee',lineWidth:1.5,tickColor:'#555',tickLength:6,tickWidth:2},border:{color:'#555',width:2,dash:[12,10]},ticks:{stepSize:2,includeBounds:false,color:'#333',padding:2,font:{size:17}}}}})});
  T('ABCG2 ('+cfg.probe+'): Methylation (HM27 and HM450 merge)',cfg.xt,917,{size:16.8,color:'#555',anchor:'center'});
  T('(log10)',cfg.xt,937,{size:16.8,color:'#555',anchor:'center'});
  T('ABCG2: mRNA Expression, RSEM (Batch normalized from',cfg.yt,518,{size:16.6,color:'#555',anchor:'center',rotate:-90});
  T('Illumina HiSeq_RNASeqV2) (log2(value + 1))',cfg.yt+18,518,{size:16.6,color:'#555',anchor:'center',rotate:-90});
  const c='#444',s=17;
  T('Spearman: '+cfg.spearman,cfg.right,228,{size:s,color:c,anchor:'right'});
  T('(p = '+cfg.sp+')',cfg.right,253.7,{size:s,color:c,anchor:'right'});
  T('Pearson: '+cfg.pearson,cfg.right,292,{size:s,color:c,anchor:'right'});
  T('(p = '+cfg.pp+')',cfg.right,317.5,{size:s,color:c,anchor:'right'});
  R(cfg.lg+6,348,13,3.2,'#C0392B');
  T(cfg.eq,cfg.lg+28.5,349.6,{size:s,color:c});
  T(cfg.r2,cfg.lg+28.5,374.6,{size:s,color:c});
  T('ABCG2',cfg.lg,416.4,{size:20,weight:700,color:'#333'});
  [['Amplification','#FF0000',453],['Gain','#FF8DA5',490],['Diploid','#B8B8B8',526.6],['Shallow Deletion','#1FD3DB',563.4],['Deep Deletion','#0000FF',600.6]].forEach(r=>{
    const d=document.createElement('div');d.style.cssText=`position:absolute;left:${cfg.lg+5.6}px;top:${r[2]-5}px;width:10px;height:10px;border-radius:50%;border:2.2px solid ${r[1]};box-sizing:border-box`;root.appendChild(d);
    T(r[0],cfg.lg+29,r[2],{size:s,color:c});
  });
}
scatterPanel({cl:1100,pl:1154,pr:1864,xmin:-1.804,xmax:-0.291,probe:'cg24207176',xt:1506.5,yt:1074,right:2040.7,lg:1909.5,spearman:'0.05',sp:'0.241',pearson:'0.04',pp:'0.336',eq:'y = 0.42x + 6.33',r2:'R² = 0',shallow:bShallow,diploid:bDiploid,gain:bGain,amp:bAmp,deep:bDeep,fit:bFit});
scatterPanel({cl:2180,pl:2234,pr:2943,xmin:-1.594,xmax:0.0817,probe:'cg24352530',xt:2586.7,yt:2153.4,right:3119.9,lg:2989,spearman:'-0.02',sp:'0.707',pearson:'-0.08',pp:'0.0794',eq:'y = -0.51x + 5.29',r2:'R² = 0.01',shallow:cShallow,diploid:cDiploid,gain:cGain,amp:cAmp,deep:cDeep,fit:cFit});

/* ---------- Panel D ---------- */
const colLabels=Array.from({length:COLS},(_,i)=>i);
function barOpts(xOpt,yOpt){return base({scales:{x:Object.assign({display:false},xOpt),y:Object.assign({display:false},yOpt)}});}
/* heatmap */
new Chart(place(135,1146,848,1068),{type:'bar',data:{labels:colLabels,datasets:heatRows.map((runs,r)=>{const v=expand(runs);return {data:v.map(()=>[r,r+1]),backgroundColor:v.map(heatColor),barPercentage:1,categoryPercentage:1,grouped:false,borderWidth:0};})},
 options:barOpts({},{type:'linear',min:0,max:12,reverse:true})});
/* annotation tracks */
function stripesToCols(baseCat,stripes){const a=new Array(COLS).fill(baseCat);stripes.forEach(s=>{a[s[0]]=s[1]});return a;}
const trackCols=[stripesToCols(4,ethnicityStripes),stripesToCols(5,raceStripes),ageTrack.join('').split(''),eventTrack.join('').split('')];
const trackPal=[ethnicityPalette,racePalette,agePalette,eventPalette];
new Chart(place(135,1069,848,72),{type:'bar',data:{labels:colLabels,datasets:trackCols.map((a,r)=>({data:a.map(()=>[r,r+.82]),backgroundColor:a.map(c=>c==='-'?'#ffffff':trackPal[r][+c]),barPercentage:1,categoryPercentage:1,grouped:false,borderWidth:0}))},
 options:barOpts({},{type:'linear',min:0,max:3.82,reverse:true})});
/* probe annotation strips */
new Chart(place(96,1146,35,1068),{type:'bar',data:{labels:['Relation_to_UCSC_CpG_Island','UCSC_RefGene_Group'],datasets:probeNames.map((_,r)=>({data:[[r,r+1],[r,r+1]],backgroundColor:[relationPalette[relationOfProbe[r]],groupPalette[groupOfProbe[r]]],barPercentage:.93,categoryPercentage:1,grouped:false,borderWidth:0}))},
 options:barOpts({},{type:'linear',min:0,max:12,reverse:true})});
/* dendrograms */
function dendro(l,t,w,h,pts,xo,yo,col){new Chart(place(l,t,w,h),{type:'scatter',data:{datasets:[{data:pts,showLine:true,borderColor:col,borderWidth:1.4,pointRadius:0,spanGaps:false}]},options:base({scales:{x:Object.assign({type:'linear',display:false},xo),y:Object.assign({type:'linear',display:false},yo)}})});}
dendro(135,985,848,83,brackets(topDendroMain.concat(topDendroMid,topDendroLeaves.map(b=>[b[0],b[1],b[2],0,0]))),{min:0,max:212},{min:0,max:166},'#333');
dendro(8,1146,88,1068,swap(brackets(sideDendro)),{min:0,max:87,reverse:true},{min:0,max:12,reverse:true},'#333');
/* labels */
probeNames.forEach((n,i)=>T(n,988,1146+89*(i+.5)-1,{size:25,color:'#222'}));
trackNames.forEach((n,i)=>T(n,988,[1077,1096.8,1115,1134][i],{size:15,weight:700,color:'#222'}));
T('UCSC_RefGene_Group',122.8,2306,{size:15,weight:700,color:'#222',anchor:'center',rotate:90});
T('Relation_to_UCSC_CpG_Island',103,2337,{size:15,weight:700,color:'#222',anchor:'center',rotate:90});
/* colour bar */
const barSteps=[];for(let i=0;i<47;i++)barSteps.push(.016+i*.0196);
new Chart(place(1138,1068,50,232),{type:'bar',data:{labels:['beta'],datasets:barSteps.map(v=>({data:[[v,v+.0216]],backgroundColor:heatColor(v),barPercentage:1,categoryPercentage:1,grouped:false,borderWidth:0}))},
 options:base({scales:{x:{display:false},y:{position:'right',type:'linear',min:.016,max:.937,afterFit:fixW(35),grid:{display:false,drawTicks:false},border:{display:false},ticks:{stepSize:.2,includeBounds:false,padding:7,color:'#444',font:{size:15.5},callback:v=>v.toFixed(1)}}}})});
legendBlocks.forEach(b=>{
  T(b[0],1188,b[1],{size:15.5,weight:700,color:'#222'});
  b[2].forEach((it,i)=>{R(1188,it[1]-12.5,25,25,b[3][i]);T(it[0],1218,it[1],{size:15.5,color:'#444'});});
});

/* ---------- Survival panels ---------- */
function survival(c){
  const big=c.big;const box=c.box;const s=big?{tick:15,tl:10,px:11,gap:26,lab:14.5,title:17.7,txt:15.5,lw:2,dy:65,dx:62,tdy:36,lr:155.3,p1:24,p2:42.3,l1:38.3,l2:20.7,a:157.3,b:128.5,tx:116.5,col:'#222',bc:'#222',lo:'#0000FF',hi:'#FF0000'}
    :{tick:11.5,tl:7,px:7,gap:20,lab:11,title:12.8,txt:11.2,lw:1.4,dy:46.7,dx:47.6,tdy:27,lr:120.3,p1:18,p2:32,l1:30.3,l2:17,a:116.3,b:95.6,tx:86,col:'#333',bc:'#777',lo:'rgba(30,30,255,.85)',hi:'rgba(255,30,30,.85)'};
  const cl=box.l-44,ct=box.t-4,cw=box.r+4-cl,chh=box.b+44-ct;
  const framePl={id:'frame',afterDraw(ch){const a=ch.chartArea,x=ch.ctx,y=ch.scales.y;x.save();x.strokeStyle=s.bc;x.lineWidth=2;x.strokeRect(a.left,a.top,a.right-a.left,a.bottom-a.top);
    x.fillStyle=s.col;x.font=`${s.tick}px ${FONT}`;x.textAlign='center';x.textBaseline='middle';
    survivalProbTicks.forEach(v=>{x.save();x.translate(a.left-s.gap,y.getPixelForValue(v));x.rotate(-Math.PI/2);x.fillText(v.toFixed(1),0,0);x.restore();});
    x.restore();}};
  new Chart(place(cl,ct,cw,chh),{type:'scatter',plugins:[framePl],data:{datasets:[
    {data:xy(c.hi),showLine:true,stepped:true,borderColor:s.hi,borderWidth:s.lw,pointRadius:0},
    {data:xy(c.lo),showLine:true,stepped:true,borderColor:s.lo,borderWidth:s.lw,pointRadius:0}]},
   options:base({layout:{autoPadding:false,padding:{top:4,right:4}},scales:{
    x:{type:'linear',min:-206,max:5490,afterFit:fixH(44),afterBuildTicks:a=>{a.ticks=survivalDayTicks.map(v=>({value:v}))},grid:{drawOnChartArea:false,tickColor:'#555',tickLength:s.tl,tickWidth:1.5},border:{display:false},ticks:{autoSkip:false,maxRotation:0,padding:s.px,color:s.col,font:{size:s.tick},callback:v=>String(v)}},
    y:{type:'linear',min:-0.041,max:1.038,afterFit:fixW(44),afterBuildTicks:a=>{a.ticks=survivalProbTicks.map(v=>({value:v}))},grid:{drawOnChartArea:false,tickColor:'#555',tickLength:s.tl,tickWidth:1.5},border:{display:false},ticks:{display:false}}}})});
  const mid=(box.l+box.r)/2;
  T(c.title,mid,box.t-s.tdy,{size:s.title,weight:700,color:'#111',anchor:'center'});
  T('Survival time (days)',mid,box.b+s.dy,{size:s.lab+.3,color:'#333',anchor:'center'});
  T('Survival Probability',box.l-s.dx,(box.t+box.b)/2,{size:s.lab,color:'#333',anchor:'center',rotate:-90});
  T('LR test p-value='+c.p,box.r-s.lr,box.t+s.p1,{size:s.txt,color:'#222'});
  T('HR='+c.hr,box.r-s.lr,box.t+s.p2,{size:s.txt,color:'#222'});
  R(box.r-s.a,box.b-s.l1-1,s.a-s.b,2,'#0000FF');R(box.r-s.a,box.b-s.l2-1,s.a-s.b,2,'#FF0000');
  T('Lower (n='+c.n[0]+')',box.r-s.tx,box.b-s.l1,{size:s.txt,color:'#222'});
  T('Higher (n='+c.n[1]+')',box.r-s.tx,box.b-s.l2,{size:s.txt,color:'#222'});
}
survival({big:true,box:{l:1914,t:1028,r:2818,b:1360},title:"ABCG2 - 5'UTR-Open_Sea-cg02016771",p:'0.38',hr:'1.152',n:[186,186],lo:eLower,hi:eHigher});
survival({box:{l:1714,t:1589,r:2079,b:1911},title:'ABCG2 - TSS200-Island-cg01263075',p:'0.038',hr:'1.517',n:[93,279],lo:fLower,hi:fHigher});
survival({box:{l:2164,t:1589,r:2529,b:1911},title:'ABCG2 - TSS200-Island-cg03415858',p:'0.026',hr:'0.697',n:[183,189],lo:gLower,hi:gHigher});
survival({box:{l:2614,t:1589,r:2979,b:1911},title:'ABCG2 - TSS200-Island-cg25295218',p:'0.023',hr:'0.631',n:[279,93],lo:hLower,hi:hHigher});
survival({box:{l:1714,t:2081,r:2080,b:2404},title:'ABCG2 - TSS1500-Island-cg02196227',p:'0.074',hr:'1.404',n:[279,93],lo:iLower,hi:iHigher});
survival({box:{l:2164,t:2081,r:2530,b:2405},title:'ABCG2 - TSS1500-Island-cg27493371',p:'0.057',hr:'0.718',n:[103,269],lo:jLower,hi:jHigher});
survival({box:{l:2614,t:2081,r:2979,b:2403},title:"ABCG2 - 1stExon;5'UTR-Island-cg22031336",p:'0.083',hr:'1.389',n:[93,279],lo:kLower,hi:kHigher});
</script></body></html>
